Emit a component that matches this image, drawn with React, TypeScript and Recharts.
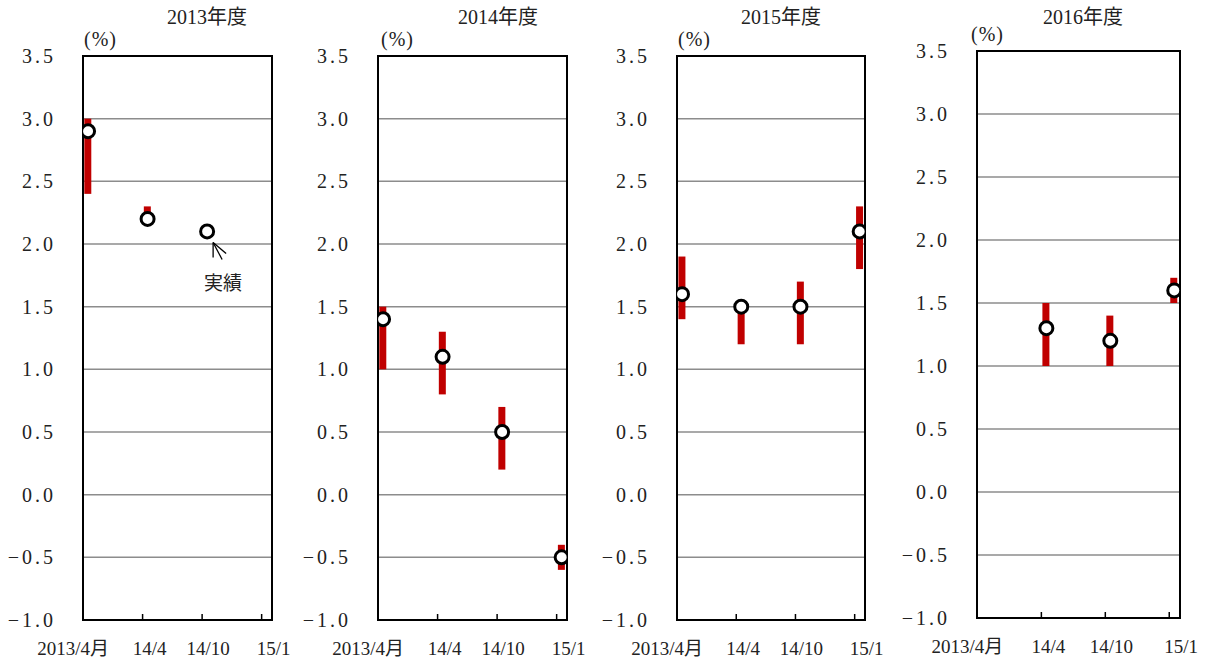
import { Bar, CartesianGrid, ComposedChart, Line, ReferenceArea, ReferenceDot, XAxis, YAxis } from "recharts";

const years = ["2013年度", "2014年度", "2015年度", "2016年度"];
const periods = ["2013/4月", "14/4", "14/10", "15/1"];
const yTicks = [-1.0, -0.5, 0.0, 0.5, 1.0, 1.5, 2.0, 2.5, 3.0, 3.5];

// forecast ranges (low / high) and median points, per fiscal year
const low2013 = [2.4, 2.2, null, null];
const high2013 = [3.0, 2.3, null, null];
const pt2013 = [2.9, 2.2, 2.1, null];

const low2014 = [1.0, 0.8, 0.2, -0.6];
const high2014 = [1.5, 1.3, 0.7, -0.4];
const pt2014 = [1.4, 1.1, 0.5, -0.5];

const low2015 = [1.4, 1.2, 1.2, 1.8];
const high2015 = [1.9, 1.5, 1.7, 2.3];
const pt2015 = [1.6, 1.5, 1.5, 2.1];

const low2016 = [null, 1.0, 1.0, 1.5];
const high2016 = [null, 1.5, 1.4, 1.7];
const pt2016 = [null, 1.3, 1.2, 1.6];

const actualLabel = "実績";
const actualIndex = 2;

const lows = [low2013, low2014, low2015, low2016];
const highs = [high2013, high2014, high2015, high2016];
const pts = [pt2013, pt2014, pt2015, pt2016];

// layout per panel: plot left/right/top/bottom, title center, (%) left
const layout = [
  { l: 83, r: 272, t: 56, b: 620, title: 207, pct: 84 },
  { l: 378, r: 567, t: 56, b: 620, title: 498, pct: 381 },
  { l: 677, r: 865, t: 56, b: 620, title: 781, pct: 678 },
  { l: 977, r: 1180, t: 51, b: 618, title: 1083, pct: 971 },
];

const FONT = "'Liberation Serif', 'Noto Sans CJK JP', serif";
const LABEL_DX = [-15, 2, 1, 7];
const AXIS_W = 83;
const RIGHT = 30;

function XTick(props: any) {
  const { x, y, payload } = props;
  const i = payload.value as number;
  return (
    <g>
      {i > 0 && <line x1={x - 5} x2={x - 5} y1={y} y2={y - 6} stroke="#000" strokeWidth={1.5} />}
      <text x={x + LABEL_DX[i]} y={y + 35} textAnchor="middle" fontSize={19} fontFamily={FONT} fill="#222">
        {periods[i]}
      </text>
    </g>
  );
}

function ActualNote(props: any) {
  const { cx, cy } = props;
  return (
    <g>
      <line x1={cx + 6} y1={cy + 11} x2={cx + 15} y2={cy + 28} stroke="#000" strokeWidth={1.3} />
      <line x1={cx + 6} y1={cy + 11} x2={cx + 6} y2={cy + 26} stroke="#000" strokeWidth={1.3} />
      <line x1={cx + 6} y1={cy + 11} x2={cx + 19} y2={cy + 22} stroke="#000" strokeWidth={1.3} />
      <text x={cx + 16} y={cy + 59} textAnchor="middle" fontSize={19} fontFamily={FONT} fill="#222">
        {actualLabel}
      </text>
    </g>
  );
}

function Panel({ k }: { k: number }) {
  const L = layout[k];
  const data = periods.map((p, i) => ({
    x: i,
    period: p,
    range: lows[k][i] == null ? null : [lows[k][i], highs[k][i]],
    pt: pts[k][i],
  }));
  const width = AXIS_W + (L.r - L.l) + RIGHT;
  return (
    <div style={{ position: "absolute", left: L.l - AXIS_W, top: 0 }}>
      <ComposedChart
        width={width}
        height={664}
        data={data}
        margin={{ top: L.t, right: RIGHT, left: 0, bottom: 664 - L.b - 30 }}
      >
        <CartesianGrid vertical={false} stroke="#8c8c8c" strokeWidth={1.5} />
        <XAxis
          type="number"
          dataKey="x"
          domain={[-0.085, 3.09]}
          ticks={[0, 1, 2, 3]}
          allowDataOverflow
          height={30}
          tickSize={0}
          tickMargin={0}
          axisLine={false}
          tickLine={false}
          tick={<XTick />}
        />
        <YAxis
          domain={[-1, 3.5]}
          ticks={yTicks}
          allowDataOverflow
          width={AXIS_W}
          tickSize={0}
          tickMargin={27}
          axisLine={false}
          tickLine={false}
          tickFormatter={(v: number) => (v < 0 ? "\u2212" + Math.abs(v).toFixed(1) : v.toFixed(1))}
          tick={{ fontSize: 20, fontFamily: FONT, fill: "#222", letterSpacing: 3 }}
        />
        <ReferenceArea y1={-1} y2={3.5} fill="none" stroke="#000" strokeWidth={2} ifOverflow="visible" />
        <Bar dataKey="range" barSize={7} fill="#c00000" isAnimationActive={false} />
        <Line
          dataKey="pt"
          stroke="none"
          dot={{ r: 6.5, fill: "#fff", stroke: "#000", strokeWidth: 3 }}
          activeDot={false}
          isAnimationActive={false}
        />
        {k === 0 && (
          <ReferenceDot x={actualIndex} y={pt2013[actualIndex] as number} r={0} shape={<ActualNote />} ifOverflow="visible" />
        )}
      </ComposedChart>
    </div>
  );
}

export default function App() {
  return (
    <div style={{ position: "absolute", left: 0, top: 0, width: 1211, height: 664, background: "#fff", fontFamily: FONT }}>
      {layout.map((L, k) => (
        <div key={"t" + k}>
          <div
            style={{
              position: "absolute",
              left: L.title - 70,
              width: 140,
              top: 5,
              textAlign: "center",
              fontSize: 20,
              color: "#222",
              lineHeight: "24px",
            }}
          >
            {years[k]}
          </div>
          <div
            style={{
              position: "absolute",
              left: L.pct,
              top: L.t - 29,
              fontSize: 20,
              color: "#222",
              lineHeight: "24px",
              letterSpacing: 1,
            }}
          >
            (%)
          </div>
        </div>
      ))}
      {layout.map((_, k) => (
        <Panel key={k} k={k} />
      ))}
    </div>
  );
}
